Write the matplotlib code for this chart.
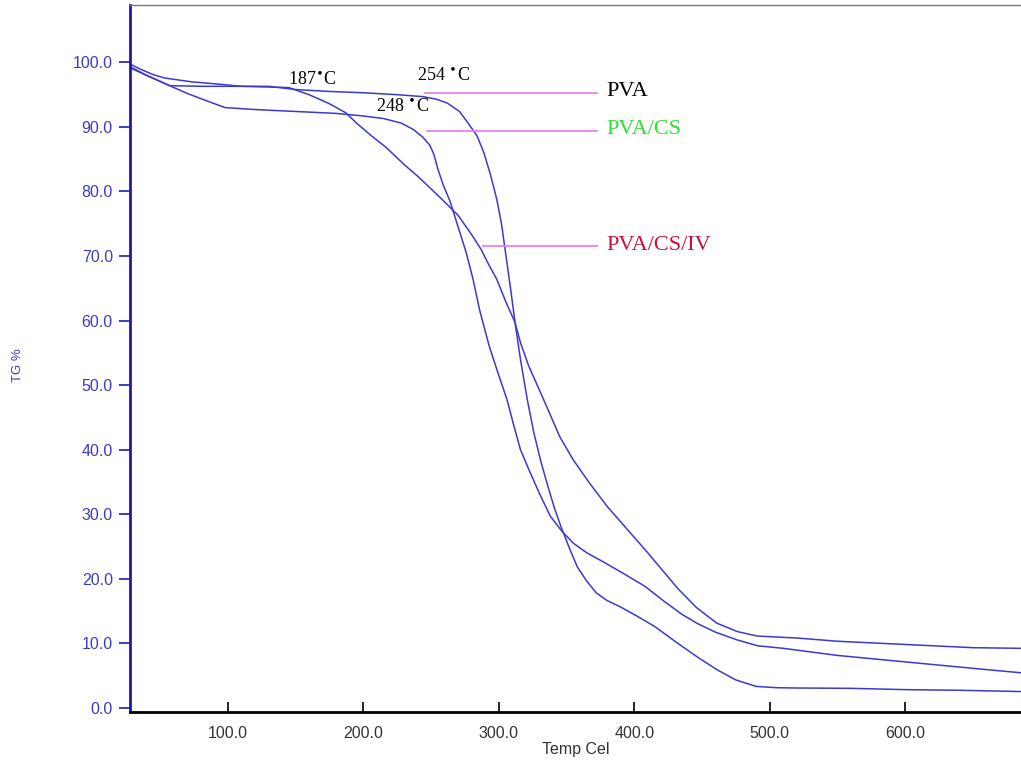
import matplotlib
matplotlib.use("Agg")
import matplotlib.pyplot as plt

# TGA curves (temperature in Cel, TG in %)
temp_pva = [27.4, 35, 45, 53, 73, 95, 110, 130, 150, 175, 200, 225, 244, 254, 262, 271,
            278, 284, 289, 294, 298.5, 302, 306, 309, 312, 316, 321, 326, 331, 336, 341,
            346, 352, 358, 365, 372, 380, 390, 402, 415, 432, 447, 461, 475, 490, 505,
            520, 560, 600, 640, 686]
tg_pva = [99.8, 99.0, 98.1, 97.6, 97.0, 96.6, 96.3, 96.3, 95.8, 95.5, 95.3, 95.0, 94.7,
          94.3, 93.7, 92.4, 90.4, 88.6, 86.0, 82.5, 78.8, 75.0, 69.0, 64.5, 59.7, 54.0,
          47.8, 42.5, 38.2, 34.5, 31.0, 28.0, 24.8, 21.8, 19.6, 17.8, 16.6, 15.6, 14.2,
          12.6, 10.0, 7.8, 5.9, 4.3, 3.3, 3.1, 3.05, 3.0, 2.8, 2.7, 2.5]

temp_pvacs = [27.4, 40, 57, 70, 85, 98, 120, 140, 160, 180, 200, 215, 228, 237, 244, 249,
              252, 255, 259, 264, 270, 276, 281, 286, 293, 300, 306, 311, 316, 322, 330,
              338, 346, 355, 365, 378, 392, 408, 422, 435, 447, 460, 476, 491, 510, 550,
              600, 650, 686]
tg_pvacs = [99.2, 98.0, 96.4, 95.2, 94.0, 93.0, 92.7, 92.5, 92.3, 92.1, 91.7, 91.3, 90.6,
            89.6, 88.4, 87.2, 85.8, 83.5, 81.0, 78.5, 74.5, 70.5, 66.4, 61.5, 56.0, 51.5,
            47.8, 43.8, 40.0, 37.0, 33.2, 29.7, 27.5, 25.5, 24.0, 22.5, 20.8, 18.8, 16.5,
            14.5, 13.0, 11.7, 10.5, 9.6, 9.2, 8.1, 7.1, 6.1, 5.4]

temp_pvacsiv = [27.4, 40, 57, 80, 110, 145, 160, 175, 187, 195, 205, 217, 230, 241, 258,
                270, 280, 287, 293, 298.5, 305, 312, 316, 322, 333, 345, 355, 367, 380,
                395, 410, 420, 432, 446, 461, 476, 491, 520, 550, 600, 650, 686]
tg_pvacsiv = [99.4, 98.0, 96.4, 96.3, 96.3, 96.1, 95.0, 93.6, 92.2, 90.6, 88.8, 86.8,
              84.2, 82.2, 78.8, 76.3, 73.3, 71.0, 68.5, 66.4, 63.0, 59.7, 56.6, 53.0,
              47.8, 42.0, 38.4, 34.8, 31.2, 27.6, 24.0, 21.5, 18.5, 15.5, 13.1, 11.8,
              11.1, 10.8, 10.3, 9.8, 9.3, 9.2]

onset_labels = ["187$^{\\bullet}$C", "254 $^{\\bullet}$C", "248 $^{\\bullet}$C"]
sample_names = ["PVA", "PVA/CS", "PVA/CS/IV"]
sample_colors = ["black", "#33dd33", "#c8103c"]
leader_y = [95.3, 89.4, 71.5]
leader_x0 = [245.7, 246.7, 288.3]

xticks = [100, 200, 300, 400, 500, 600]
yticks = [0, 10, 20, 30, 40, 50, 60, 70, 80, 90, 100]

curve_col = "#3a3ad2"
tick_blue = "#3c3cc0"

fig = plt.figure(figsize=(10.21, 7.62), dpi=100)
ax = fig.add_axes([129.5 / 1021, 50.3 / 762, (1021 - 129.5) / 1021, 706.7 / 762])

ax.plot(temp_pva, tg_pva, color=curve_col, lw=1.1)
ax.plot(temp_pvacs, tg_pvacs, color=curve_col, lw=1.1)
ax.plot(temp_pvacsiv, tg_pvacsiv, color=curve_col, lw=1.1)

# leader lines + sample names
for y0, x0, name, c in zip(leader_y, leader_x0, sample_names, sample_colors):
    ax.plot([x0, 372.5], [y0, y0], color="#ee80ee", lw=1.3)
    ax.text(379.7, y0 + 0.2, name, color=c, fontsize=16, family="Liberation Serif",
            va="center", ha="left")

# onset temperatures
ax.text(162, 97.3, onset_labels[0], fontsize=13, family="Liberation Serif", ha="center", va="center")
ax.text(259.5, 97.8, onset_labels[1], fontsize=13, family="Liberation Serif", ha="center", va="center")
ax.text(229.3, 93.1, onset_labels[2], fontsize=13, family="Liberation Serif", ha="center", va="center")

ax.set_xlim(27.4, 685.5)
ax.set_ylim(-0.62, 108.9)
ax.set_xticks(xticks)
ax.set_xticklabels(["%.1f" % v for v in xticks], family="Liberation Sans", fontsize=11.5, color="#333333")
ax.set_yticks(yticks)
ax.set_yticklabels(["%.1f" % v for v in yticks], family="Liberation Sans", fontsize=11.5, color=tick_blue)

ax.tick_params(axis="y", direction="out", length=8, width=1.4, color=tick_blue, pad=4)
ax.tick_params(axis="x", direction="in", length=7, width=1.2, color="black", pad=10)

ax.spines["left"].set_color("#1c1ca6")
ax.spines["left"].set_linewidth(2)
ax.spines["bottom"].set_color("black")
ax.spines["bottom"].set_linewidth(2)
ax.spines["top"].set_color("#777777")
ax.spines["top"].set_linewidth(1)
ax.spines["right"].set_visible(False)

ax.set_xlabel("Temp Cel", family="Liberation Sans", fontsize=11.5, color="#333333", labelpad=1)
fig.text(18 / 1021, 1 - 365 / 762, "TG %", rotation=90, color=tick_blue, fontsize=9.5,
         family="Liberation Sans", ha="center", va="center")

fig.savefig("out.png", dpi=100)
